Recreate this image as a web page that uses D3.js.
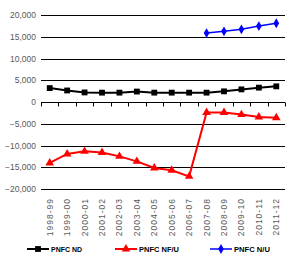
<!DOCTYPE html>
<html>
<head>
<meta charset="utf-8">
<script src="https://cdn.jsdelivr.net/npm/d3@7"></script>
<style>
  body { margin: 0; background: #fff; }
  svg { display: block; font-family: "Liberation Sans", Arial, sans-serif; }
</style>
</head>
<body>
<svg id="chart" width="291" height="259"></svg>
<script>
const years = ["1998-99", "1999-00", "2000-01", "2001-02", "2002-03", "2003-04", "2004-05",
  "2005-06", "2006-07", "2007-08", "2008-09", "2009-10", "2010-11", "2011-12"];
const pnfcND = [3200, 2650, 2200, 2150, 2150, 2400, 2150, 2150, 2150, 2150, 2450, 2900, 3300, 3600];
const pnfcNFU = [-14000, -11950, -11350, -11600, -12500, -13650, -15150, -15700, -17100,
  -2400, -2400, -2900, -3450, -3600];
const pnfcNU = [null, null, null, null, null, null, null, null, null, 15850, 16250, 16700, 17450, 18100];
const yTicks = [-20000, -15000, -10000, -5000, 0, 5000, 10000, 15000, 20000];

const svg = d3.select("#chart");

const x = d3.scaleBand().domain(years).range([41, 285]);
const y = d3.scaleLinear().domain([-20000, 20000]).range([189, 15]);

// gridlines
svg.append("g")
  .selectAll("line")
  .data(yTicks)
  .enter()
  .append("line")
  .attr("x1", 41).attr("x2", 285)
  .attr("y1", d => Math.round(y(d)) + 0.5)
  .attr("y2", d => Math.round(y(d)) + 0.5)
  .attr("stroke", "#000")
  .attr("stroke-width", 1);

// y labels
svg.append("g")
  .selectAll("text")
  .data(yTicks)
  .enter()
  .append("text")
  .attr("x", 36)
  .attr("y", d => y(d) + 3)
  .attr("text-anchor", "end")
  .attr("font-size", "8.5px")
  .attr("fill", "#595959")
  .text(d => d3.format(",")(d));

// category axis on zero line
const y0 = Math.round(y(0)) + 0.5;
const bounds = years.map(d => x(d)).concat([285]);
svg.append("g")
  .selectAll("line")
  .data(bounds)
  .enter()
  .append("line")
  .attr("x1", d => Math.round(d) + 0.5).attr("x2", d => Math.round(d) + 0.5)
  .attr("y1", y0).attr("y2", y0 + 4)
  .attr("stroke", "#000");

// x labels at bottom
svg.append("g")
  .selectAll("text")
  .data(years)
  .enter()
  .append("text")
  .attr("transform", d => `translate(${x(d) + x.bandwidth() / 2 + 3},198) rotate(-90)`)
  .attr("text-anchor", "end")
  .attr("font-size", "8.5px")
  .attr("letter-spacing", "1px")
  .attr("fill", "#595959")
  .text(d => d);

const cx = d => x(d) + x.bandwidth() / 2;

function drawSeries(values, color, width, marker) {
  const pts = years.map((d, i) => [cx(d), values[i]]).filter(p => p[1] != null);
  const line = d3.line().x(p => p[0]).y(p => y(p[1]));
  svg.append("path")
    .datum(pts)
    .attr("d", line)
    .attr("fill", "none")
    .attr("stroke", color)
    .attr("stroke-width", width);
  svg.append("g")
    .selectAll("path")
    .data(pts)
    .enter()
    .append("path")
    .attr("transform", p => `translate(${p[0]},${y(p[1])})`)
    .attr("d", marker)
    .attr("fill", color);
}

const square = d3.symbol().type(d3.symbolSquare).size(34)();
const triangle = d3.symbol().type(d3.symbolTriangle).size(32)();
const diamond = d3.symbol().type(d3.symbolDiamond).size(28)();

drawSeries(pnfcNFU, "#ff0000", 2, triangle);
drawSeries(pnfcND, "#000000", 2, square);
drawSeries(pnfcNU, "#0000ff", 1.5, diamond);

// legend
const legend = [
  { name: "PNFC ND", color: "#000000", w: 2, marker: square, x: 27, len: 31 },
  { name: "PNFC NF/U", color: "#ff0000", w: 2, marker: triangle, x: 115, len: 40 },
  { name: "PNFC N/U", color: "#0000ff", w: 1.5, marker: diamond, x: 210, len: 36 }
];
const lg = svg.append("g")
  .selectAll("g")
  .data(legend)
  .enter()
  .append("g")
  .attr("transform", d => `translate(${d.x},249)`);
lg.append("line")
  .attr("x1", 0).attr("x2", 22)
  .attr("stroke", d => d.color)
  .attr("stroke-width", d => d.w);
lg.append("path")
  .attr("transform", "translate(11,0)")
  .attr("d", d => d.marker)
  .attr("fill", d => d.color);
lg.append("text")
  .attr("x", 24)
  .attr("y", 3)
  .attr("font-size", "8px")
  .attr("textLength", d => d.len)
  .attr("lengthAdjust", "spacingAndGlyphs")
  .attr("fill", "#000")
  .style("font-family", "'Liberation Sans Narrow', 'Liberation Sans', sans-serif")
  .style("font-weight", "bold")
  .text(d => d.name);
</script>
</body>
</html>
